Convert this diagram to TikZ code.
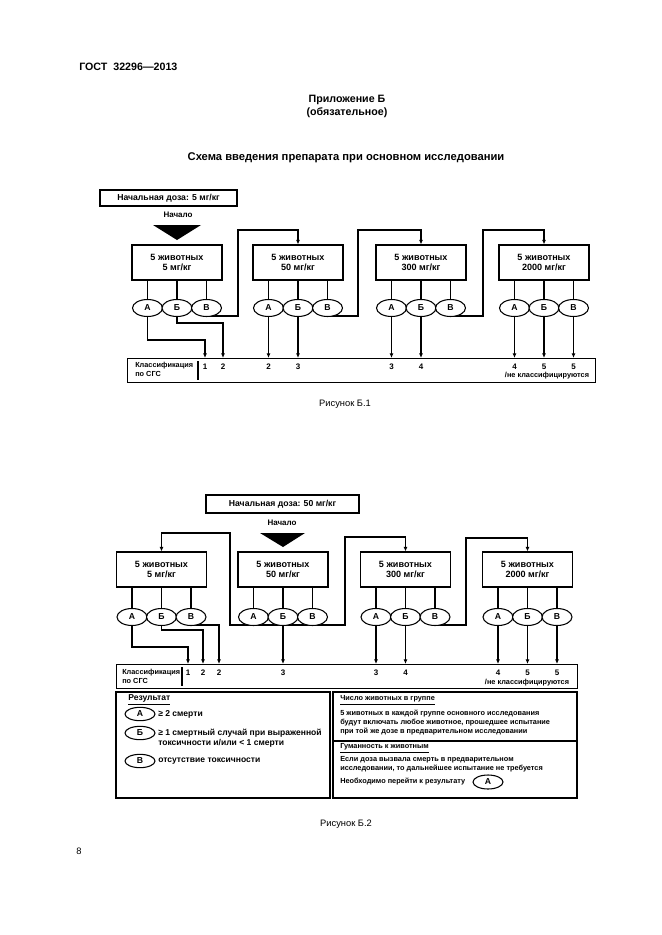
\documentclass[tikz,border=0pt]{standalone}
\usepackage{fontspec}
\setmainfont{Liberation Sans}
\usetikzlibrary{shapes.geometric,arrows.meta}

\tikzset{
  hdr/.style={inner sep=0.75pt, font=\fontsize{8}{9.6}\selectfont\bfseries},
  capt/.style={inner sep=0.75pt, font=\fontsize{7}{8.4}\selectfont},
  dosebox/.style={draw, line width=0.8pt, inner sep=0pt, minimum height=12pt, font=\fontsize{6.5}{7.8}\selectfont\bfseries},
  grpbox/.style={draw, line width=0.8pt, inner sep=0pt, minimum width=67.5pt, minimum height=26.25pt, align=center, font=\fontsize{6.8}{8}\selectfont\bfseries},
  outc/.style={draw, ellipse, fill=white, line width=0.8pt, inner sep=0pt, minimum width=22.5pt, minimum height=12.75pt, font=\fontsize{6.5}{7.8}\selectfont\bfseries},
  clsbar/.style={draw, line width=0.8pt, inner sep=0pt, anchor=north west, minimum height=18pt},
  cls/.style={inner sep=0.75pt, font=\fontsize{6}{7}\selectfont\bfseries},
  tiny/.style={inner sep=0.75pt, align=left, font=\fontsize{5.5}{6.75}\selectfont\bfseries},
  lgd/.style={inner sep=0.75pt, align=left, font=\fontsize{6.4}{7.5}\selectfont\bfseries},
  ln/.style={line width=0.8pt},
  arr/.style={line width=0.8pt, -{Latex[length=3.5pt,width=3pt]}}
}

\begin{document}
\begin{tikzpicture}[x=0.75pt,y=0.75pt,yscale=-1,xscale=1]

% Page
\fill[white] (0,0) rectangle (661,935);
\useasboundingbox (0,0) rectangle (661,935);

% Header
\node[hdr, anchor=west] (gost) at (78,67) {ГОСТ\ \ 32296—2013};
\node[hdr] (app) at (347,100) {Приложение Б};
\node[hdr] (oblig) at (347,113) {(обязательное)};
\node[hdr, font=\fontsize{8.4}{10}\selectfont\bfseries] (title) at (346,158) {Схема введения препарата при основном исследовании};

%%%%%%%% Figure 1
\node[dosebox, minimum width=102.75pt] (dose1) at (168.5,198) {Начальная доза: 5 мг/кг};
\node[cls] (start1) at (178,215) {Начало};
\fill (153,225) -- (201,225) -- (177,240) -- cycle;

% Groups
\node[grpbox] (b11) at (177,262.5) {5 животных\\5 мг/кг};
\node[grpbox] (b12) at (298,262.5) {5 животных\\50 мг/кг};
\node[grpbox] (b13) at (421,262.5) {5 животных\\300 мг/кг};
\node[grpbox] (b14) at (544,262.5) {5 животных\\2000 мг/кг};

% Classification bar
\node[clsbar, minimum width=351pt] (bar1) at (127,358) {};
\node[tiny, anchor=west] (ghs1) at (134,369.5) {Классификация\\по СГС};
\draw[ln] (198,361) -- (198,380);
\node[cls] (k11) at (205,367) {1};
\node[cls] (k12) at (223,367) {2};
\node[cls] (k13) at (268.5,367) {2};
\node[cls] (k14) at (298,367) {3};
\node[cls] (k15) at (391.5,367) {3};
\node[cls] (k16) at (421,367) {4};
\node[cls] (k17) at (514.5,367) {4};
\node[cls] (k18) at (544,367) {5};
\node[cls] (k19) at (573.5,367) {5};
\node[tiny] (nc1) at (547,376) {/не классифицируются};

% Connectors
\draw[ln] (147.5,300) -- (147.5,280);
\draw[ln] (177,300) -- (177,280);
\draw[ln] (206.5,300) -- (206.5,280);
\draw[ln] (268.5,300) -- (268.5,280);
\draw[ln] (298,300) -- (298,280);
\draw[ln] (327.5,300) -- (327.5,280);
\draw[ln] (391.5,300) -- (391.5,280);
\draw[ln] (421,300) -- (421,280);
\draw[ln] (450.5,300) -- (450.5,280);
\draw[ln] (514.5,300) -- (514.5,280);
\draw[ln] (544,300) -- (544,280);
\draw[ln] (573.5,300) -- (573.5,280);

\draw[arr] (147.5,316) -- ++(0,24) -| (k11.north |- bar1.north);
\draw[arr] (177,316) -- ++(0,7) -| (k12.north |- bar1.north);
\draw[arr] (206.5,316) -| (238,230) -| (b12.north);
\draw[arr] (268.5,316) -- (k13.north |- bar1.north);
\draw[arr] (298,316) -- (k14.north |- bar1.north);
\draw[arr] (327.5,316) -| (358,230) -| (b13.north);
\draw[arr] (391.5,316) -- (k15.north |- bar1.north);
\draw[arr] (421,316) -- (k16.north |- bar1.north);
\draw[arr] (450.5,316) -| (483,230) -| (b14.north);
\draw[arr] (514.5,316) -- (k17.north |- bar1.north);
\draw[arr] (544,316) -- (k18.north |- bar1.north);
\draw[arr] (573.5,316) -- (k19.north |- bar1.north);

% Outcomes
\node[outc] (a11) at (147.5,308) {А};
\node[outc] (bb11) at (177,308) {Б};
\node[outc] (v11) at (206.5,308) {В};
\node[outc] (a12) at (268.5,308) {А};
\node[outc] (bb12) at (298,308) {Б};
\node[outc] (v12) at (327.5,308) {В};
\node[outc] (a13) at (391.5,308) {А};
\node[outc] (bb13) at (421,308) {Б};
\node[outc] (v13) at (450.5,308) {В};
\node[outc] (a14) at (514.5,308) {А};
\node[outc] (bb14) at (544,308) {Б};
\node[outc] (v14) at (573.5,308) {В};

\node[capt] (fig1) at (345,404) {Рисунок Б.1};

%%%%%%%% Figure 2
\node[dosebox, minimum width=114.75pt, minimum height=13.5pt] (dose2) at (282.5,504) {Начальная доза: 50 мг/кг};
\node[cls] (start2) at (282,523) {Начало};
\fill (260,533) -- (305,533) -- (283,547) -- cycle;

% Groups
\node[grpbox] (b21) at (161.5,569.5) {5 животных\\5 мг/кг};
\node[grpbox] (b22) at (283,569.5) {5 животных\\50 мг/кг};
\node[grpbox] (b23) at (405.5,569.5) {5 животных\\300 мг/кг};
\node[grpbox] (b24) at (527.5,569.5) {5 животных\\2000 мг/кг};

% Classification bar
\node[clsbar, minimum width=345.75pt] (bar2) at (116,664) {};
\node[tiny, anchor=west] (ghs2) at (121,676.5) {Классификация\\по СГС};
\draw[ln] (182,667) -- (182,686);
\node[cls] (k21) at (188,673) {1};
\node[cls] (k22) at (203,673) {2};
\node[cls] (k23) at (219,673) {2};
\node[cls] (k24) at (283,673) {3};
\node[cls] (k25) at (376,673) {3};
\node[cls] (k26) at (405.5,673) {4};
\node[cls] (k27) at (498,673) {4};
\node[cls] (k28) at (527.5,673) {5};
\node[cls] (k29) at (557,673) {5};
\node[tiny] (nc2) at (527,683) {/не классифицируются};

% Connectors
\draw[ln] (132,609) -- (132,587);
\draw[ln] (161.5,609) -- (161.5,587);
\draw[ln] (191,609) -- (191,587);
\draw[ln] (253.5,609) -- (253.5,587);
\draw[ln] (283,609) -- (283,587);
\draw[ln] (312.5,609) -- (312.5,587);
\draw[ln] (376,609) -- (376,587);
\draw[ln] (405.5,609) -- (405.5,587);
\draw[ln] (435,609) -- (435,587);
\draw[ln] (498,609) -- (498,587);
\draw[ln] (527.5,609) -- (527.5,587);
\draw[ln] (557,609) -- (557,587);

\draw[arr] (132,625) -- ++(0,22) -| (k21.north |- bar2.north);
\draw[arr] (161.5,625) -- ++(0,5) -| (k22.north |- bar2.north);
\draw[arr] (191,625) -| (k23.north |- bar2.north);
\draw[ln] (253.5,625) -- (312.5,625);
\draw[arr] (253.5,625) -| (230,533) -| (b21.north);
\draw[arr] (283,625) -- (k24.north |- bar2.north);
\draw[arr] (312.5,625) -| (345,537) -| (b23.north);
\draw[arr] (376,625) -- (k25.north |- bar2.north);
\draw[arr] (405.5,625) -- (k26.north |- bar2.north);
\draw[arr] (435,625) -| (466,538) -| (b24.north);
\draw[arr] (498,625) -- (k27.north |- bar2.north);
\draw[arr] (527.5,625) -- (k28.north |- bar2.north);
\draw[arr] (557,625) -- (k29.north |- bar2.north);

% Outcomes
\node[outc] (a21) at (132,617) {А};
\node[outc] (bb21) at (161.5,617) {Б};
\node[outc] (v21) at (191,617) {В};
\node[outc] (a22) at (253.5,617) {А};
\node[outc] (bb22) at (283,617) {Б};
\node[outc] (v22) at (312.5,617) {В};
\node[outc] (a23) at (376,617) {А};
\node[outc] (bb23) at (405.5,617) {Б};
\node[outc] (v23) at (435,617) {В};
\node[outc] (a24) at (498,617) {А};
\node[outc] (bb24) at (527.5,617) {Б};
\node[outc] (v24) at (557,617) {В};

% Legend
\draw[line width=1.1pt] (116,692) rectangle (330,798);
\draw[line width=1.1pt] (333,692) rectangle (577,798);
\draw[ln] (333,741) -- (577,741);

\node[lgd, anchor=west] (res) at (127,700) {\underline{Результат}};
\node[outc, minimum width=22.5pt, minimum height=10pt] (la) at (140,714) {А};
\node[outc, minimum width=22.5pt, minimum height=10pt] (lb) at (140,733) {Б};
\node[outc, minimum width=22.5pt, minimum height=10pt] (lv) at (140,761) {В};
\node[lgd, anchor=west] (ta) at (157,714) {≥ 2 смерти};
\node[lgd, anchor=west] (tb) at (157,738) {≥ 1 смертный случай при выраженной\\токсичности и/или < 1 смерти};
\node[lgd, anchor=west] (tv) at (157,761) {отсутствие токсичности};

\node[tiny, anchor=west] (num) at (339,700) {\underline{Число животных в группе}};
\node[tiny, anchor=west] (numt) at (339,723) {5 животных в каждой группе основного исследования\\будут включать любое животное, прошедшее испытание\\при той же дозе в предварительном исследовании};
\node[tiny, anchor=west] (hum) at (339,748) {\underline{Гуманность к животным}};
\node[tiny, anchor=west] (humt) at (339,764.5) {Если доза вызвала смерть в предварительном\\исследовании, то дальнейшее испытание не требуется};
\node[tiny, anchor=west] (go) at (339,782) {Необходимо перейти к результату};
\node[outc, minimum width=22.5pt, minimum height=10.5pt] (ra) at (488,782) {А};

\node[capt] (fig2) at (346,824) {Рисунок Б.2};
\node[capt] (pg) at (79,851) {8};

\end{tikzpicture}
\end{document}
